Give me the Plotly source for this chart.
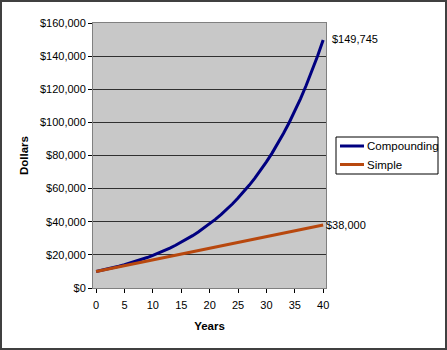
import plotly.graph_objects as go

years = list(range(0, 41))
compounding = [10000, 10700, 11449, 12250, 13108, 14026, 15007, 16058, 17182, 18385,
               19672, 21049, 22522, 24098, 25785, 27590, 29522, 31588, 33799, 36165,
               38697, 41406, 44304, 47405, 50724, 54274, 58074, 62139, 66488, 71143,
               76123, 81451, 87153, 93253, 99781, 106766, 114239, 122236, 130793, 139948,
               149745]
simple = [10000, 10700, 11400, 12100, 12800, 13500, 14200, 14900, 15600, 16300,
          17000, 17700, 18400, 19100, 19800, 20500, 21200, 21900, 22600, 23300,
          24000, 24700, 25400, 26100, 26800, 27500, 28200, 28900, 29600, 30300,
          31000, 31700, 32400, 33100, 33800, 34500, 35200, 35900, 36600, 37300,
          38000]
series_names = ["Compounding", "Simple"]
series_colors = ["#000080", "#B8480E"]
y_ticks = [0, 20000, 40000, 60000, 80000, 100000, 120000, 140000, 160000]
x_ticks = [0, 5, 10, 15, 20, 25, 30, 35, 40]

FONT = "Liberation Sans, Arial, sans-serif"
W, H = 447, 350
L, R, T, B = 93, 121, 23, 62
pw, ph = W - L - R, H - T - B


def px_to_paper_x(px):
    return (px - L) / pw


def px_to_paper_y(py):
    return (H - B - py) / ph


fig = go.Figure()
for name, vals, color in zip(series_names, [compounding, simple], series_colors):
    fig.add_trace(go.Scatter(x=years, y=vals, mode="lines", name=name,
                             line=dict(color=color, width=3), showlegend=False))

# end-of-line value labels
fig.add_annotation(x=years[-1], y=compounding[-1], text=f"${compounding[-1]:,}",
                   showarrow=False, xanchor="left", xshift=7, yshift=1,
                   font=dict(family=FONT, size=11, color="#000000"))
fig.add_annotation(x=years[-1], y=simple[-1], text=f"${simple[-1]:,}",
                   showarrow=False, xanchor="left", xshift=1, yshift=0,
                   font=dict(family=FONT, size=11, color="#000000"))

# outer frame around the whole chart
fig.add_shape(type="rect", xref="paper", yref="paper",
              x0=px_to_paper_x(1), x1=px_to_paper_x(W - 1),
              y0=px_to_paper_y(H - 1), y1=px_to_paper_y(1),
              line=dict(color="#404040", width=2), layer="below")

# legend box with line swatches
fig.add_shape(type="rect", xref="paper", yref="paper",
              x0=px_to_paper_x(336), x1=px_to_paper_x(438),
              y0=px_to_paper_y(174), y1=px_to_paper_y(137),
              line=dict(color="#000000", width=1), fillcolor="white")
for i, (name, color) in enumerate(zip(series_names, series_colors)):
    yy = 146 + i * 18.5
    fig.add_shape(type="line", xref="paper", yref="paper",
                  x0=px_to_paper_x(340), x1=px_to_paper_x(364),
                  y0=px_to_paper_y(yy), y1=px_to_paper_y(yy),
                  line=dict(color=color, width=3))
    fig.add_annotation(xref="paper", yref="paper", x=px_to_paper_x(365),
                       y=px_to_paper_y(yy), text=name, showarrow=False,
                       xanchor="left", yanchor="middle",
                       font=dict(family=FONT, size=11.5, color="#000000"))

fig.update_layout(
    width=W, height=H,
    margin=dict(l=L, r=R, t=T, b=B, pad=0, autoexpand=False),
    paper_bgcolor="white",
    plot_bgcolor="#C8C8C8",
    font=dict(family=FONT, size=11, color="#000000"),
    showlegend=False,
    xaxis=dict(range=[-0.55, 40.5], tickvals=x_ticks, ticks="outside", ticklen=4,
               tickcolor="#000000", showgrid=False, zeroline=False,
               showline=True, linecolor="#808080", linewidth=1, mirror=True,
               ticklabelstandoff=3,
               title=dict(text="<b>Years</b>", font=dict(family=FONT, size=11.5), standoff=11)),
    yaxis=dict(range=[0, 160000], tickvals=y_ticks,
               ticktext=["$0"] + [f"${v:,}" for v in y_ticks[1:]],
               ticks="outside", ticklen=4, tickcolor="#000000",
               showgrid=True, gridcolor="#303030", gridwidth=1, zeroline=False,
               showline=True, linecolor="#808080", linewidth=1, mirror=True,
               title=dict(text="<b>Dollars</b>", font=dict(family=FONT, size=11.5), standoff=8)),
)

fig.write_html("out.html")
